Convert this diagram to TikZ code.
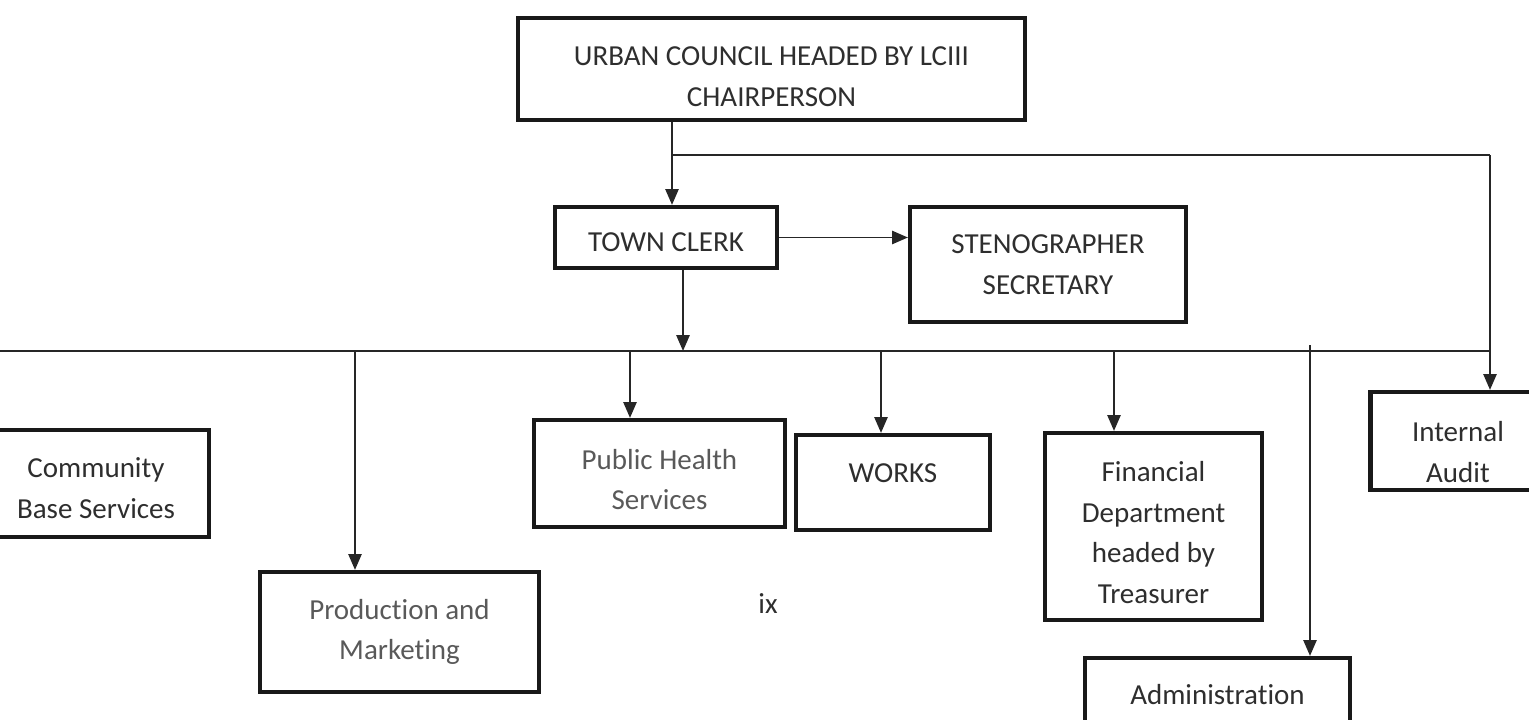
\documentclass[tikz,border=0pt]{standalone}
\usepackage{fontspec}
\setmainfont{Carlito}[Ligatures={NoCommon,NoContextual}]
\usetikzlibrary{arrows.meta}

\tikzset{
	orgbox/.style={draw=black!90, line width=2.4pt, shape=rectangle, align=center, inner sep=2pt, text=black!82},
	boxtext/.style={align=center, inner sep=0pt, text=black!82},
	wire/.style={draw=black!85, line width=1.1pt},
	arr/.style={wire, -{Triangle[length=9pt, width=7.5pt]}},
}

\begin{document}
\begin{tikzpicture}[x=0.02cm, y=-0.02cm, font=\fontsize{16.5}{23.2}\selectfont]
		\useasboundingbox (0, 0) rectangle (1529, 720);
		% Boxes:
		\node[orgbox, minimum width=10.14cm, minimum height=2.04cm, label={[boxtext, name=councilText, yshift=-0.16cm]center:{URBAN COUNCIL HEADED BY LCIII\\CHAIRPERSON}}] (council) at (771.5, 69){};
		\node[orgbox, minimum width=4.44cm, minimum height=1.22cm, label={[boxtext, name=clerkText, yshift=-0.10cm]center:{TOWN CLERK}}] (clerk) at (666, 237.5){};
		\node[orgbox, minimum width=5.52cm, minimum height=2.30cm] (steno) at (1048, 264.5){STENOGRAPHER\\SECRETARY};
		\node[orgbox, minimum width=4.80cm, minimum height=2.14cm, label={[boxtext, name=communityText, yshift=-0.10cm, xshift=0.14cm]center:{Community\\Base Services}}] (community) at (89, 483.5){};
		\node[orgbox, minimum width=5.02cm, minimum height=2.14cm, label={[boxtext, name=healthText, yshift=-0.12cm, text=black!65]center:{Public Health\\Services}}] (health) at (659.5, 473.5){};
		\node[orgbox, minimum width=3.88cm, minimum height=1.90cm, label={[boxtext, name=worksText, yshift=0.18cm]center:{WORKS}}] (works) at (893, 482.5){};
		\node[orgbox, minimum width=4.34cm, minimum height=3.74cm, label={[boxtext, name=financeText, yshift=-0.12cm]center:{Financial\\Department\\headed by\\Treasurer}}] (finance) at (1153.5, 526.5){};
		\node[orgbox, minimum width=5.58cm, minimum height=2.40cm, text=black!65] (production) at (399.5, 632){Production and\\Marketing};
		\node[orgbox, minimum width=3.70cm, minimum height=1.96cm, label={[boxtext, name=auditText, yshift=-0.22cm, xshift=-0.10cm]center:{Internal\\Audit}}] (audit) at (1463, 441){};
		\node[orgbox, minimum width=5.30cm, minimum height=1.48cm] (admin) at (1217.5, 695){Administration};
		\node[text=black!82] (page) at (768, 604){ix};
		% Taps on the lines:
		\coordinate (split) at (672, 155);
		\coordinate (auditTap) at (1490, 155);
		\coordinate (busL) at (0, 351);
		\coordinate (busR) at (1490, 351);
		\coordinate (clerkTap) at (683, 351);
		\coordinate (prodTap) at (355, 351);
		\coordinate (healthTap) at (630, 351);
		\coordinate (worksTap) at (881, 351);
		\coordinate (finTap) at (1114, 351);
		\coordinate (adminTap) at (1310, 345);
		% Arrows:
		\draw[arr] (council.south -| split) -- (clerk.north -| split);
		\draw[wire] (split) -- (auditTap);
		\draw[arr] (auditTap) -- (audit.north -| auditTap);
		\draw[arr] (clerk.east) -- (steno.west |- clerk.east);
		\draw[arr] (clerk.south -| clerkTap) -- (clerkTap);
		\draw[wire] (busL) -- (busR);
		\draw[arr] (prodTap) -- (production.north -| prodTap);
		\draw[arr] (healthTap) -- (health.north -| healthTap);
		\draw[arr] (worksTap) -- (works.north -| worksTap);
		\draw[arr] (finTap) -- (finance.north -| finTap);
		\draw[arr] (adminTap) -- (admin.north -| adminTap);
	\end{tikzpicture}
\end{document}
